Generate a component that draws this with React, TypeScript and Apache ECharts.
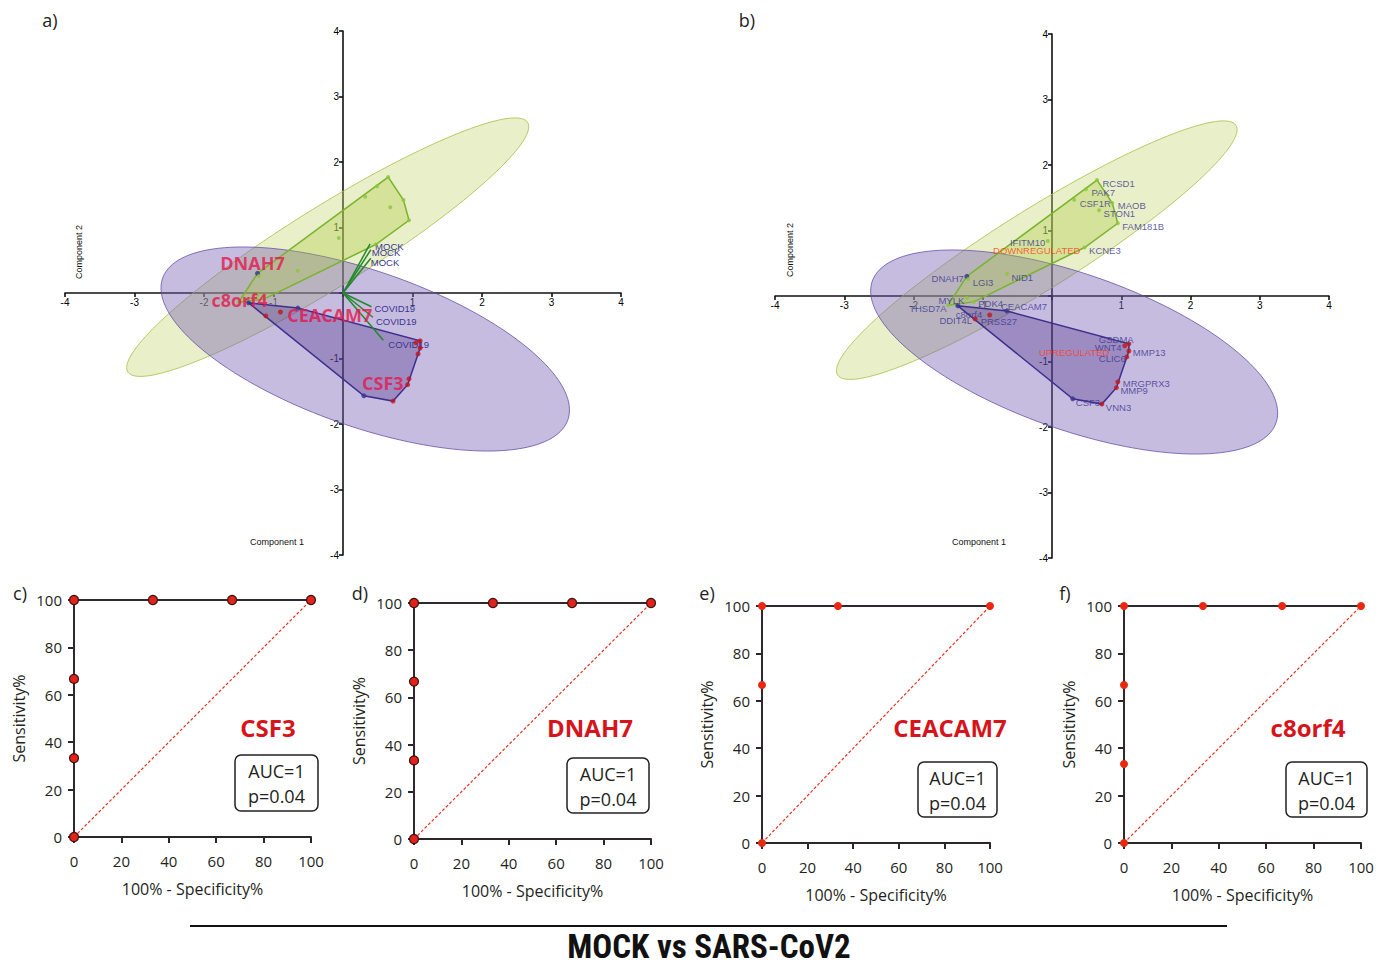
import React, { useEffect, useRef } from 'react';
import * as echarts from 'echarts';

// ---------------- DATA ----------------
// PCA gene coordinates (Component 1, Component 2)
const geneNames = ['RCSD1', 'PAK7', 'CSF1R', 'MAOB', 'STON1', 'FAM181B', 'KCNE3', 'IFITM10', 'NID1', 'DNAH7', 'LGI3', 'MYLK', 'PDK4', 'THSD7A',
  'c8orf4', 'CEACAM7', 'DDIT4L', 'PRSS27', 'GSDMA', 'WNT4', 'MMP13', 'CLIC6', 'MRGPRX3', 'MMP9', 'VNN3', 'CSF3'];
const geneX = [0.65, 0.49, 0.32, 0.87, 0.68, 0.95, 0.47, -0.06, -0.65, -1.23, -1.21, -1.23, -1.13, -1.5,
  -1.36, -0.65, -1.11, -0.9, 1.11, 1.05, 1.11, 1.08, 0.95, 0.93, 0.72, 0.3];
const geneY = [1.77, 1.63, 1.47, 1.42, 1.31, 1.11, 0.74, 0.84, 0.34, 0.3, 0.26, -0.03, -0.09, -0.14,
  -0.15, -0.23, -0.35, -0.29, -0.73, -0.76, -0.84, -0.93, -1.31, -1.4, -1.65, -1.57];
const geneGroup = ['down', 'down', 'down', 'down', 'down', 'down', 'down', 'down', 'down', 'down', 'down', 'down', 'down', 'down',
  'up', 'up', 'up', 'up', 'up', 'up', 'up', 'up', 'up', 'up', 'up', 'up'];
const markerGenes = ['DNAH7', 'c8orf4', 'CEACAM7', 'CSF3'];

// Sample loadings (biplot vectors)
const sampleNames = ['MOCK', 'MOCK', 'MOCK', 'COVID19', 'COVID19', 'COVID19'];
const sampleX = [0.39, 0.4, 0.4, 0.41, 0.43, 0.58];
const sampleY = [0.75, 0.66, 0.53, -0.21, -0.37, -0.72];

// Confidence ellipses per group
const groupKeys = ['down', 'up'];
const groupNames = ['DOWNREGULATED', 'UPREGULATED'];
const ellipseCx = [-0.22, 0.32];
const ellipseCy = [0.7, -0.855];
const ellipseA = [3.45, 3.11];
const ellipseB = [0.6, 1.18];
const ellipseAngle = [33.6, -20.7];

const pcaTicks = [-4, -3, -2, -1, 0, 1, 2, 3, 4];

// ROC curves
const rocGenes = ['CSF3', 'DNAH7', 'CEACAM7', 'c8orf4'];
const rocFpr = [
  [0, 0, 0, 0, 33.3, 66.7, 100],
  [0, 0, 0, 0, 33.3, 66.7, 100],
  [0, 0, 0, 33.3, 100],
  [0, 0, 0, 0, 33.3, 66.7, 100],
];
const rocTpr = [
  [0, 33.3, 66.7, 100, 100, 100, 100],
  [0, 33.3, 66.7, 100, 100, 100, 100],
  [0, 66.7, 100, 100, 100],
  [0, 33.3, 66.7, 100, 100, 100, 100],
];
const rocAuc = ['1', '1', '1', '1'];
const rocP = ['0.04', '0.04', '0.04', '0.04'];
const rocTicks = [0, 20, 40, 60, 80, 100];

// ---------------- LAYOUT ----------------
const W = 1386;
const H = 966;
const gridBoxes = [
  { left: 65, top: 31, width: 556, height: 524 },
  { left: 775, top: 34, width: 554, height: 524 },
  { left: 74, top: 600, width: 237, height: 237 },
  { left: 414, top: 603, width: 237, height: 236 },
  { left: 762, top: 606, width: 228, height: 237 },
  { left: 1124, top: 606, width: 237, height: 237 },
];
// panel b gene label offsets [dx, dy, align] in px from the point
const geneLabelLayout: [number, number, string][] = [
  [5, 3, 'left'], [5, 3, 'left'], [5, 3, 'left'], [5, 2, 'left'], [4, 3, 'left'], [4, 3, 'left'], [4, 2, 'left'],
  [-3, 1, 'right'], [4, 3, 'left'], [-3, 2, 'right'], [4, 3, 'left'], [-3, 2, 'right'], [4, 1, 'left'], [-2, 3, 'right'],
  [-2, 9, 'left'], [-6, -5, 'left'], [-3, 2, 'right'], [-9, 7, 'left'], [-30, -4, 'left'], [-30, 2, 'left'], [4, 1, 'left'],
  [-28, 2, 'left'], [5, 2, 'left'], [4, 3, 'left'], [4, 3, 'left'], [3, 4, 'left'],
];
// panel a big marker labels (center offsets)
const markerLabelLayout: Record<string, [number, number]> = {
  DNAH7: [-5, -10], c8orf4: [-9, -3], CEACAM7: [32, 7], CSF3: [19, -13],
};
const sampleLabelLayout: [number, number][] = [[5, 3], [1, 3], [0, 4], [3, 2], [3, 4], [5, 4]];
const rocTitlePos: [number, number][] = [[268, 727], [590, 727], [950, 727], [1308, 727]];
const rocBoxRect: [number, number, number, number][] = [[235, 755, 83, 56], [567, 758, 82, 55], [918, 762, 79, 55], [1286, 762, 81, 55]];
const rocMarkerBorder = [true, true, false, false];
const panelLabels: [string, number, number][] = [['a)', 50, 20], ['b)', 747, 20], ['c)', 20, 593], ['d)', 360, 593], ['e)', 707, 593], ['f)', 1065, 593]];

const SANS = "'Liberation Sans', Arial, sans-serif";
const HUM = "'Open Sans', 'Noto Sans', sans-serif";

const COLORS = {
  green: '#8cc63f',
  red: '#c0151b',
  blue: '#3a3391',
  label: '#3a358f',
  ellipseFill: ['rgba(196,212,110,0.38)', 'rgba(120,95,180,0.42)'],
  ellipseStroke: ['rgba(170,195,80,0.85)', 'rgba(95,75,165,0.75)'],
  hullFill: ['rgba(170,200,60,0.33)', 'rgba(70,40,130,0.32)'],
  hullStroke: ['#7ab32e', '#3d2f8e'],
};

function convexHull(pts: number[][]) {
  const p = pts.slice().sort((a, b) => a[0] - b[0] || a[1] - b[1]);
  const cross = (o: number[], a: number[], b: number[]) => (a[0] - o[0]) * (b[1] - o[1]) - (a[1] - o[1]) * (b[0] - o[0]);
  const lower: number[][] = [];
  for (const q of p) {
    while (lower.length >= 2 && cross(lower[lower.length - 2], lower[lower.length - 1], q) <= 0) lower.pop();
    lower.push(q);
  }
  const upper: number[][] = [];
  for (const q of p.slice().reverse()) {
    while (upper.length >= 2 && cross(upper[upper.length - 2], upper[upper.length - 1], q) <= 0) upper.pop();
    upper.push(q);
  }
  upper.pop();
  lower.pop();
  return lower.concat(upper);
}

function geneColor(i: number) {
  if (markerGenes.includes(geneNames[i])) return COLORS.blue;
  return geneGroup[i] === 'down' ? COLORS.green : COLORS.red;
}

function pcaAxis(gi: number, isX: boolean) {
  const min = pcaTicks[0];
  const max = pcaTicks[pcaTicks.length - 1];
  const g = gridBoxes[gi];
  const frac = (0 - min) / (max - min);
  // place the axis through the origin
  const offset = isX ? -frac * g.height : -frac * g.width;
  return {
    type: 'value', gridIndex: gi, min, max, interval: 1,
    offset,
    axisLine: { onZero: false, lineStyle: { color: '#111', width: 1.6 } },
    axisTick: { show: true, length: 4, lineStyle: { color: '#111', width: 1.6 } },
    axisLabel: { fontSize: 10, color: '#000', margin: 4, fontFamily: SANS, formatter: (v: number) => (v === 0 ? '' : String(v)) },
    splitLine: { show: false },
  };
}

function rocAxis(gi: number, isX: boolean) {
  return {
    type: 'value', gridIndex: gi, min: rocTicks[0], max: rocTicks[rocTicks.length - 1], interval: 20,
    axisLine: { onZero: false, lineStyle: { color: '#2b2629', width: 2 } },
    axisTick: { show: true, length: 6, lineStyle: { color: '#2b2629', width: 2 } },
    axisLabel: { fontSize: 15, color: '#231f20', margin: isX ? 16 : 12, fontFamily: HUM },
    splitLine: { show: false },
    name: isX ? '100% - Specificity%' : 'Sensitivity%',
    nameLocation: 'middle',
    nameGap: isX ? 44 : 47,
    nameTextStyle: { fontSize: 16, color: '#231f20', fontFamily: HUM },
  };
}

function ellipseSeries(gi: number) {
  return {
    type: 'custom', xAxisIndex: gi, yAxisIndex: gi, silent: true, z: 1,
    data: groupKeys.map((_, k) => [ellipseCx[k], ellipseCy[k], ellipseA[k], ellipseB[k], ellipseAngle[k]]),
    renderItem: (params: any, api: any) => {
      const k = params.dataIndex;
      const cx = api.value(0), cy = api.value(1), a = api.value(2), b = api.value(3);
      const ang = (api.value(4) * Math.PI) / 180;
      const pts: number[][] = [];
      const n = 160;
      for (let i = 0; i < n; i++) {
        const t = (i / n) * Math.PI * 2;
        const x = cx + a * Math.cos(t) * Math.cos(ang) - b * Math.sin(t) * Math.sin(ang);
        const y = cy + a * Math.cos(t) * Math.sin(ang) + b * Math.sin(t) * Math.cos(ang);
        pts.push(api.coord([x, y]));
      }
      return { type: 'polygon', shape: { points: pts }, style: { fill: COLORS.ellipseFill[k], stroke: COLORS.ellipseStroke[k], lineWidth: 1 } };
    },
  };
}

function hullSeries(gi: number) {
  const hulls = groupKeys.map((g) => convexHull(geneX.map((x, i) => [x, geneY[i]]).filter((_, i) => geneGroup[i] === g)));
  return {
    type: 'custom', xAxisIndex: gi, yAxisIndex: gi, silent: true, z: 2,
    data: groupKeys.map((_, k) => [hulls[k][0][0], hulls[k][0][1]]),
    renderItem: (params: any, api: any) => {
      const k = params.dataIndex;
      const pts = hulls[k].map((p) => api.coord(p));
      return { type: 'polygon', shape: { points: pts }, style: { fill: COLORS.hullFill[k], stroke: COLORS.hullStroke[k], lineWidth: 1.5 } };
    },
  };
}

function buildOption() {
  const series: any[] = [];
  // ---- panel a ----
  series.push(ellipseSeries(0));
  series.push(hullSeries(0));
  series.push({
    type: 'custom', xAxisIndex: 0, yAxisIndex: 0, silent: true, z: 3,
    data: sampleX.map((x, i) => [x, sampleY[i]]),
    renderItem: (params: any, api: any) => {
      const i = params.dataIndex;
      const o = api.coord([0, 0]);
      const e = api.coord([api.value(0), api.value(1)]);
      const off = sampleLabelLayout[i];
      return {
        type: 'group',
        children: [
          { type: 'line', shape: { x1: o[0], y1: o[1], x2: e[0], y2: e[1] }, style: { stroke: '#23892a', lineWidth: 1.5 } },
          { type: 'text', x: e[0] + off[0], y: e[1] + off[1], style: { text: sampleNames[i], fill: COLORS.label, fontSize: 9.5, fontFamily: SANS, align: 'left', verticalAlign: 'middle' } },
        ],
      };
    },
  });
  series.push({
    type: 'scatter', xAxisIndex: 0, yAxisIndex: 0, z: 4, symbol: 'circle', silent: true,
    data: geneNames.map((n, i) => {
      const isMarker = markerGenes.includes(n);
      const lay = markerLabelLayout[n] || [0, 0];
      return {
        name: n, value: [geneX[i], geneY[i]],
        symbolSize: geneGroup[i] === 'down' && !isMarker ? 4 : 5,
        itemStyle: { color: geneColor(i) },
        label: isMarker
          ? { show: true, formatter: n, position: [lay[0] + 2.5, lay[1] + 2.5], align: 'center', verticalAlign: 'middle', fontSize: 18, fontWeight: 'bold', fontFamily: HUM, color: '#e3174d' }
          : { show: false },
      };
    }),
  });
  // ---- panel b ----
  series.push(ellipseSeries(1));
  series.push(hullSeries(1));
  series.push({
    type: 'scatter', xAxisIndex: 1, yAxisIndex: 1, z: 4, symbol: 'circle', symbolSize: 5, silent: true,
    data: geneNames.map((n, i) => {
      const lay = geneLabelLayout[i];
      return {
        name: n, value: [geneX[i], geneY[i]],
        symbolSize: geneGroup[i] === 'down' && !markerGenes.includes(n) ? 4 : 5,
        itemStyle: { color: geneColor(i) },
        label: { show: true, formatter: n, position: [lay[0] + 2.5, lay[1] + 2.5], align: lay[2], verticalAlign: 'middle', fontSize: 9.5, fontFamily: SANS, color: COLORS.label },
      };
    }),
  });
  series.push({
    type: 'scatter', xAxisIndex: 1, yAxisIndex: 1, z: 5, symbolSize: 0, silent: true,
    data: groupNames.map((g, k) => ({
      name: g, value: [ellipseCx[k], ellipseCy[k]],
      label: { show: true, formatter: g, position: 'inside', align: 'center', verticalAlign: 'middle', fontSize: 9.5, fontFamily: SANS, color: '#ff3b1c' },
    })),
  });
  // ---- ROC panels ----
  rocGenes.forEach((g, r) => {
    const gi = r + 2;
    series.push({
      type: 'line', xAxisIndex: gi, yAxisIndex: gi, z: 2, silent: true, symbol: 'none',
      data: [[rocTicks[0], rocTicks[0]], [rocTicks[rocTicks.length - 1], rocTicks[rocTicks.length - 1]]],
      lineStyle: { color: '#e8321e', width: 1.2, type: [3, 2] },
    });
    series.push({
      type: 'line', xAxisIndex: gi, yAxisIndex: gi, z: 3, silent: true, clip: false,
      symbol: 'circle', symbolSize: rocMarkerBorder[r] ? 9 : 8, showSymbol: true, showAllSymbol: true,
      data: rocFpr[r].map((x, j) => [x, rocTpr[r][j]]),
      lineStyle: { color: '#2e2830', width: 2 },
      itemStyle: rocMarkerBorder[r] ? { color: '#e2231a', borderColor: '#3b1111', borderWidth: 1.2 } : { color: '#e8280f', borderWidth: 0 },
    });
  });

  const graphic: any[] = [];
  panelLabels.forEach(([t, x, y]) => {
    graphic.push({ type: 'text', x, y, style: { text: t, fontSize: 18, fontFamily: HUM, fill: '#231f20', align: 'center', verticalAlign: 'middle' } });
  });
  // component axis names
  [[79, 252, 277, 542], [790, 250, 979, 542]].forEach(([vx, vy, hx, hy]) => {
    graphic.push({ type: 'text', x: vx, y: vy, rotation: Math.PI / 2, style: { text: 'Component 2', fontSize: 9, fontFamily: SANS, fill: '#111', align: 'center', verticalAlign: 'middle' } });
    graphic.push({ type: 'text', x: hx, y: hy, style: { text: 'Component 1', fontSize: 9, fontFamily: SANS, fill: '#111', align: 'center', verticalAlign: 'middle' } });
  });
  rocGenes.forEach((g, r) => {
    const [tx, ty] = rocTitlePos[r];
    graphic.push({ type: 'text', x: tx, y: ty, style: { text: g, fontSize: 24, fontWeight: 'bold', fontFamily: HUM, fill: '#d6141b', align: 'center', verticalAlign: 'middle' } });
    const [bx, by, bw, bh] = rocBoxRect[r];
    graphic.push({ type: 'rect', shape: { x: bx, y: by, width: bw, height: bh, r: 6 }, style: { fill: '#fff', stroke: '#231f20', lineWidth: 1.5 } });
    graphic.push({ type: 'text', x: bx + bw / 2, y: by + bh / 2 - 12, style: { text: 'AUC=' + rocAuc[r], fontSize: 18, fontFamily: HUM, fill: '#231f20', align: 'center', verticalAlign: 'middle' } });
    graphic.push({ type: 'text', x: bx + bw / 2, y: by + bh / 2 + 13, style: { text: 'p=' + rocP[r], fontSize: 18, fontFamily: HUM, fill: '#231f20', align: 'center', verticalAlign: 'middle' } });
  });
  graphic.push({ type: 'line', shape: { x1: 190, y1: 926, x2: 1227, y2: 926 }, style: { stroke: '#111', lineWidth: 2 } });
  graphic.push({ type: 'text', x: 709, y: 946, style: { text: 'MOCK vs SARS-CoV2', fontSize: 33, fontWeight: 'bold', fontFamily: "'Liberation Sans Narrow', 'Roboto Condensed', 'Noto Sans', sans-serif", fill: '#111', align: 'center', verticalAlign: 'middle' } });

  return {
    animation: false,
    backgroundColor: '#ffffff',
    grid: gridBoxes.map((g) => ({ ...g, containLabel: false })),
    xAxis: [pcaAxis(0, true), pcaAxis(1, true), rocAxis(2, true), rocAxis(3, true), rocAxis(4, true), rocAxis(5, true)],
    yAxis: [pcaAxis(0, false), pcaAxis(1, false), rocAxis(2, false), rocAxis(3, false), rocAxis(4, false), rocAxis(5, false)],
    series,
    graphic,
  };
}

export default function App() {
  const ref = useRef<HTMLDivElement>(null);
  useEffect(() => {
    if (!ref.current) return;
    const chart = echarts.init(ref.current, null, { renderer: 'svg' });
    chart.setOption(buildOption() as any);
    return () => chart.dispose();
  }, []);
  return <div ref={ref} style={{ position: 'absolute', left: 0, top: 0, width: W, height: H, background: '#fff' }} />;
}
